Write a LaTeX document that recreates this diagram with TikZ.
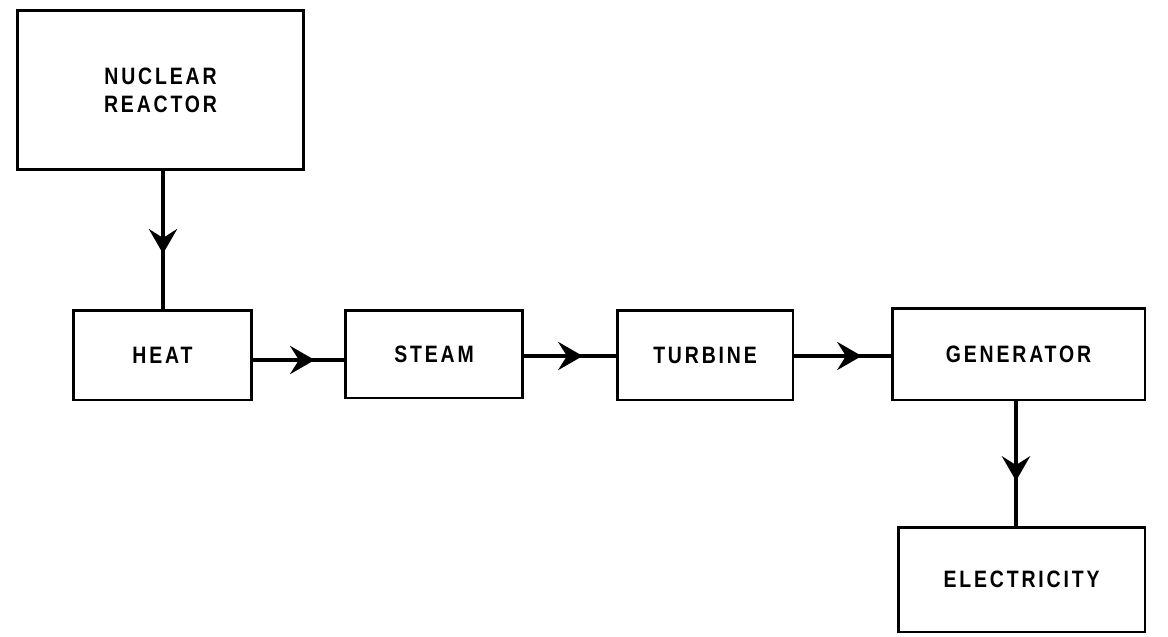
\documentclass[tikz,border=0pt]{standalone}
\usepackage{fontspec}
\setmainfont{Liberation Sans}[LetterSpace=12,FakeStretch=0.82]
\usetikzlibrary{arrows.meta,decorations.markings}
\tikzset{
  blk/.style={draw, line width=1.7pt, rectangle, inner sep=0pt, font=\bfseries\fontsize{13.5}{15}\selectfont, align=center},
  flow/.style={line width=2.4pt, postaction={decorate},
    decoration={markings, mark=at position #1 with {\arrow{Stealth[length=14pt,width=16pt,inset=5pt]}}}},
}
\begin{document}
\begin{tikzpicture}[x=0.02cm,y=-0.02cm]
\useasboundingbox (0,0) rectangle (1168,636);
\node[blk, minimum width=5.74cm, minimum height=3.2cm] (reactor) at (160.5,90) {NUCLEAR\\[1pt]REACTOR};
\node[blk, minimum width=3.58cm, minimum height=1.8cm] (heat) at (162.5,355) {HEAT};
\node[blk, minimum width=3.56cm, minimum height=1.76cm] (steam) at (434,354) {STEAM};
\node[blk, minimum width=3.52cm, minimum height=1.8cm] (turbine) at (705,355) {TURBINE};
\node[blk, minimum width=5.06cm, minimum height=1.84cm] (generator) at (1018.5,354) {GENERATOR};
\node[blk, minimum width=4.94cm, minimum height=2.1cm] (electricity) at (1021.5,579.5) {ELECTRICITY};
\draw[flow=0.6] (reactor.south -| 163,0) -- (163,0 |- heat.north);
\draw[flow=0.68] (heat.east |- 0,360) -- (steam.west |- 0,360);
\draw[flow=0.64] (steam.east |- 0,356) -- (turbine.west |- 0,356);
\draw[flow=0.7] (turbine.east |- 0,356) -- (generator.west |- 0,356);
\draw[flow=0.64] (generator.south -| 1016,0) -- (1016,0 |- electricity.north);
\end{tikzpicture}
\end{document}
